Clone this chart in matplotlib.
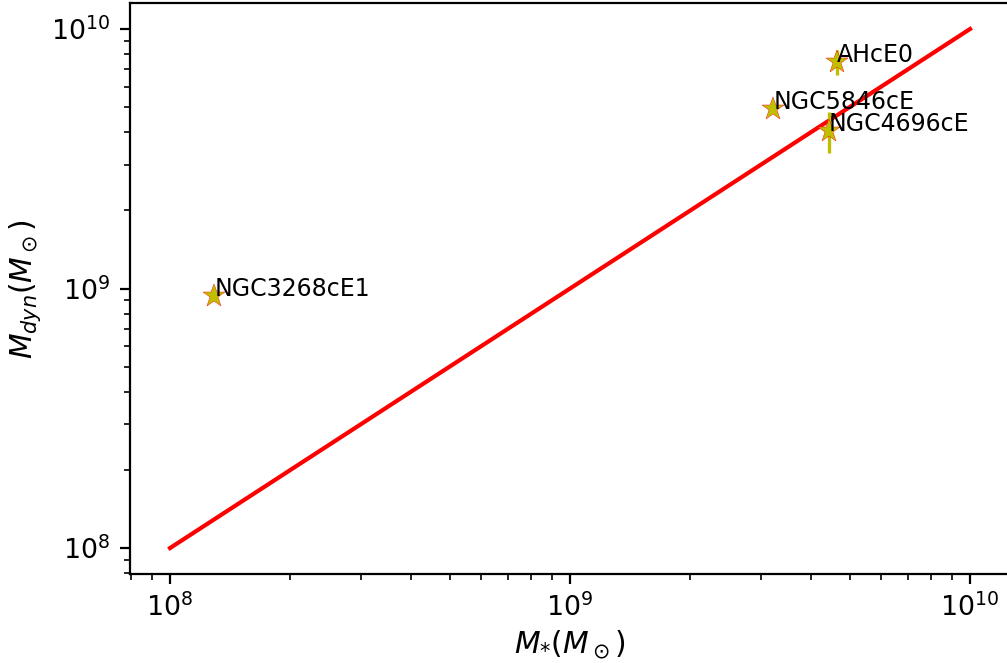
import matplotlib
matplotlib.use("Agg")
import matplotlib.pyplot as plt

names = ["NGC3268cE1", "NGC5846cE", "NGC4696cE", "AHcE0"]
mstar = [1.29e8, 3.22e9, 4.44e9, 4.65e9]
mdyn = [9.4e8, 4.92e9, 4.05e9, 7.45e9]
mdyn_err = [0.0, 0.0, 0.72e9, 0.82e9]

one_to_one = [1e8, 1e10]

fig = plt.figure(figsize=(5.035, 3.315), dpi=200)
ax = fig.add_axes([0.1291, 0.1342, 0.8739, 0.8612])

ax.plot(one_to_one, one_to_one, color="red", lw=1.5)
ax.errorbar(mstar, mdyn, yerr=mdyn_err, fmt="*", color="y", mfc="y", mec="red",
            mew=0.15, ms=8.5, capsize=0, elinewidth=1.2)

for x, y, name in zip(mstar, mdyn, names):
    ax.text(x, y, name, fontsize=8.5)

ax.set_xscale("log")
ax.set_yscale("log")
ax.set_xlim(10 ** 7.9, 10 ** 10.1)
ax.set_ylim(10 ** 7.9, 10 ** 10.1)
ax.tick_params(labelsize=9.7)

ax.set_xlabel(r"$M_{*}(M_\odot)$", fontsize=10.7, labelpad=2.5)
ax.set_ylabel(r"$M_{dyn}(M_\odot)$", fontsize=10.7, labelpad=3)

fig.savefig("out.png", dpi=200)
